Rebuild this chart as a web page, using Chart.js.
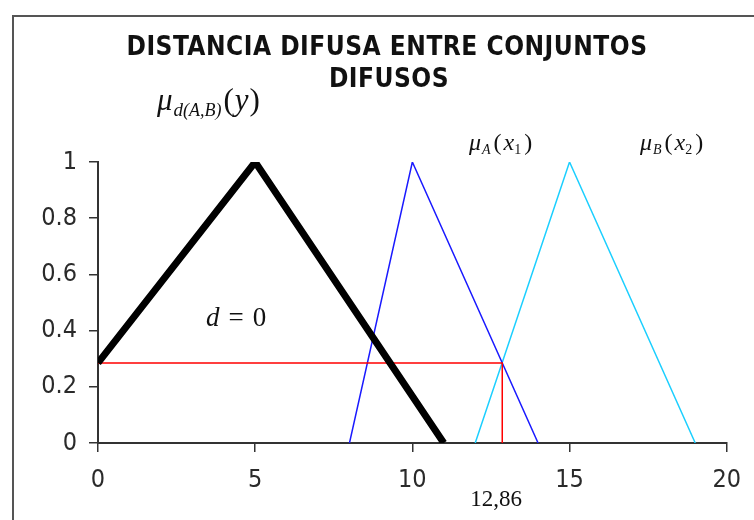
<!DOCTYPE html>
<html>
<head>
<meta charset="utf-8">
<script src="https://cdn.jsdelivr.net/npm/chart.js@4.4.1/dist/chart.umd.min.js"></script>
<style>
  html, body { margin: 0; padding: 0; background: #fff; }
  #wrap { width: 754px; height: 520px; }
</style>
</head>
<body>
<div id="wrap"><canvas id="fuzzyChart"></canvas></div>
<script>
// membership functions (x, mu)
const distX = [0, 5, 11];
const distY = [0.285, 1, 0];
const setAX = [8, 10, 14];
const setAY = [0, 1, 0];
const setBX = [12, 15, 19];
const setBY = [0, 1, 0];

// crossing of A and B, marked by the red cut
const crossX = 12.86;
const crossY = 0.285;
const cutX = [0, crossX, crossX];
const cutY = [crossY, crossY, 0];

const xTicks = [0, 5, 10, 15, 20];
const yTicks = [0, 0.2, 0.4, 0.6, 0.8, 1];
const titleLines = ['DISTANCIA DIFUSA ENTRE CONJUNTOS', 'DIFUSOS'];

function toPoints(xs, ys) {
    return xs.map((x, i) => ({ x: x, y: ys[i] }));
}

const axisColor = '#333333';
const tickFont = { family: "'DejaVu Sans Condensed', 'DejaVu Sans', sans-serif", size: 25 };

// draws a run of text pieces (font, offset) one after another
function drawRun(ctx, x, y, parts) {
    let cx = x;
    parts.forEach(p => {
        ctx.font = p.font;
        ctx.fillText(p.t, cx, y + (p.dy || 0));
        cx += ctx.measureText(p.t).width + (p.gap || 0);
    });
}

const decorations = {
    id: 'decorations',
    beforeDraw(chart) {
        const ctx = chart.ctx;
        ctx.save();
        ctx.fillStyle = '#ffffff';
        ctx.fillRect(0, 0, chart.width, chart.height);
        ctx.strokeStyle = '#555555';
        ctx.lineWidth = 2;
        ctx.strokeRect(13, 16, chart.width + 20, chart.height + 20);
        ctx.restore();
    },
    afterDraw(chart) {
        const ctx = chart.ctx;
        const xs = chart.scales.x;
        ctx.save();
        ctx.fillStyle = '#111111';
        ctx.textBaseline = 'middle';
        ctx.textAlign = 'center';
        ctx.font = "bold 26px 'DejaVu Sans Condensed', 'DejaVu Sans', sans-serif";
        ctx.letterSpacing = '0.5px';
        ctx.fillText(titleLines[0], 387, 48);
        ctx.fillText(titleLines[1], 389, 80);
        ctx.letterSpacing = '0px';

        ctx.textAlign = 'left';
        ctx.textBaseline = 'alphabetic';
        const serif = "'Liberation Serif', 'Times New Roman', serif";
        // mu d(A,B)(y)
        drawRun(ctx, 157, 110, [
            { t: '\u03bc', font: 'italic 31px ' + serif, gap: 1 },
            { t: 'd', font: 'italic 19px ' + serif, dy: 6 },
            { t: '(A,B)', font: 'italic 18px ' + serif, dy: 6, gap: 2 },
            { t: '(', font: '31px ' + serif, gap: 1 },
            { t: 'y', font: 'italic 31px ' + serif, gap: 1 },
            { t: ')', font: '31px ' + serif }
        ]);
        // mu A(x1) and mu B(x2)
        [[469, 'A', '1'], [640, 'B', '2']].forEach(([x0, s, k]) => {
            drawRun(ctx, x0, 150, [
                { t: '\u03bc', font: 'italic 24px ' + serif, gap: 1 },
                { t: s, font: 'italic 14px ' + serif, dy: 4, gap: 3 },
                { t: '(', font: '24px ' + serif, gap: 2 },
                { t: 'x', font: 'italic 24px ' + serif },
                { t: k, font: '14px ' + serif, dy: 4, gap: 3 },
                { t: ')', font: '24px ' + serif }
            ]);
        });
        drawRun(ctx, 206, 326, [
            { t: 'd', font: 'italic 27px ' + serif, gap: 9 },
            { t: '=', font: '27px ' + serif, gap: 9 },
            { t: '0', font: '27px ' + serif }
        ]);
        // value of the cut under the axis
        ctx.textAlign = 'center';
        ctx.font = '23px ' + serif;
        ctx.fillText(String(crossX).replace('.', ','), xs.getPixelForValue(crossX) - 6, 506);
        ctx.restore();
    }
};

const ctx = document.getElementById('fuzzyChart').getContext('2d');

new Chart(ctx, {
    type: 'scatter',
    data: {
        datasets: [
            {
                label: 'd(A,B)',
                data: toPoints(distX, distY),
                borderColor: '#000000',
                borderWidth: 7,
                borderJoinStyle: 'round'
            },
            {
                label: 'corte',
                data: toPoints(cutX, cutY),
                borderColor: '#ff0000',
                borderWidth: 1.5
            },
            {
                label: 'A',
                data: toPoints(setAX, setAY),
                borderColor: '#1a1aff',
                borderWidth: 1.5
            },
            {
                label: 'B',
                data: toPoints(setBX, setBY),
                borderColor: '#1ccfff',
                borderWidth: 1.5
            }
        ].map(ds => Object.assign(ds, {
            showLine: true,
            tension: 0,
            pointRadius: 0,
            pointHoverRadius: 0,
            fill: false
        }))
    },
    options: {
        responsive: true,
        maintainAspectRatio: false,
        animation: false,
        events: [],
        layout: {
            padding: { top: 162, right: 26, bottom: 0, left: 0 }
        },
        plugins: {
            legend: { display: false },
            tooltip: { enabled: false }
        },
        scales: {
            x: {
                type: 'linear',
                min: 0,
                max: 20,
                afterBuildTicks: scale => { scale.ticks = xTicks.map(v => ({ value: v })); },
                afterFit: scale => { scale.height = 77; },
                grid: { drawOnChartArea: false, drawTicks: true, tickLength: 9, color: axisColor, lineWidth: 1.5 },
                border: { display: true, color: axisColor, width: 2 },
                ticks: { color: '#2a2a2a', font: tickFont, padding: 13, maxRotation: 0 }
            },
            y: {
                type: 'linear',
                min: 0,
                max: 1,
                afterBuildTicks: scale => { scale.ticks = yTicks.map(v => ({ value: v })); },
                afterFit: scale => { scale.width = 98; },
                grid: { drawOnChartArea: false, drawTicks: true, tickLength: 9, color: axisColor, lineWidth: 1.5 },
                border: { display: true, color: axisColor, width: 2 },
                ticks: { color: '#2a2a2a', font: tickFont, padding: 12, callback: v => String(v) }
            }
        }
    },
    plugins: [decorations]
});
</script>
</body>
</html>
